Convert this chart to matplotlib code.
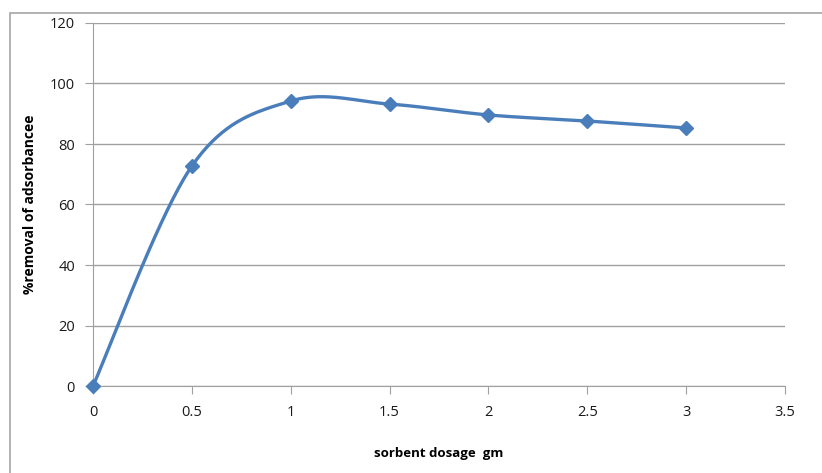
import numpy as np
import matplotlib
matplotlib.use("Agg")
import matplotlib.pyplot as plt
from matplotlib.patches import Rectangle

# data
dosage = [0, 0.5, 1, 1.5, 2, 2.5, 3]
removal = [0, 72.7, 94.2, 93.2, 89.6, 87.6, 85.3]
xticks = [0, 0.5, 1, 1.5, 2, 2.5, 3, 3.5]
yticks = [0, 20, 40, 60, 80, 100, 120]

# excel style smoothed line (bezier through points)
def smooth(xs, ys, n=40):
    p = np.column_stack([xs, ys]).astype(float)
    out = []
    for i in range(len(p) - 1):
        p0 = p[i - 1] if i > 0 else p[i]
        p3 = p[i + 2] if i + 2 < len(p) else p[i + 1]
        c1 = p[i] + (p[i + 1] - p0) / 6
        c2 = p[i + 1] - (p3 - p[i]) / 6
        t = np.linspace(0, 1, n)[:, None]
        seg = (1 - t) ** 3 * p[i] + 3 * (1 - t) ** 2 * t * c1 + 3 * (1 - t) * t ** 2 * c2 + t ** 3 * p[i + 1]
        out.append(seg)
    s = np.vstack(out)
    return s[:, 0], s[:, 1]

plt.rcParams['font.family'] = ['Open Sans', 'DejaVu Sans']
fig = plt.figure(figsize=(8.22, 4.73), dpi=100)
fig.patches.append(Rectangle((10 / 822, -0.1), 1.2, (473 - 13) / 473 + 0.1, transform=fig.transFigure,
                             fill=False, edgecolor='#a6a6a6', lw=1.2))
ax = fig.add_axes([93 / 822, 1 - 386 / 473, (785 - 93) / 822, (386 - 23) / 473])

sx, sy = smooth(dosage, removal)
ax.plot(sx, sy, color='#4a7ebb', lw=2.4, zorder=3, clip_on=False)
ax.plot(dosage, removal, 'D', color='#4a7ebb', ms=7.5, zorder=4, clip_on=False)

ax.set_xlim(0, 3.5)
ax.set_ylim(0, 120)
ax.set_xticks(xticks)
ax.set_xticklabels([str(v) for v in xticks])
ax.set_yticks(yticks)
ax.grid(axis='y', color='#a0a0a0', lw=1.0)
ax.set_axisbelow(True)
for s in ['top', 'right']:
    ax.spines[s].set_visible(False)
for s in ['left', 'bottom']:
    ax.spines[s].set_color('#a0a0a0')
ax.tick_params(colors='#a0a0a0', labelcolor='#1a1a1a', labelsize=10.5, length=6)
ax.tick_params(axis='x', pad=8)
ax.tick_params(axis='y', pad=7)
ax.set_xlabel('sorbent dosage  gm', fontsize=9.5, fontweight='bold', labelpad=19)
ax.set_ylabel('%removal of adsorbancee', fontsize=10, fontweight='bold', labelpad=9)

fig.savefig('out.png', dpi=100)
